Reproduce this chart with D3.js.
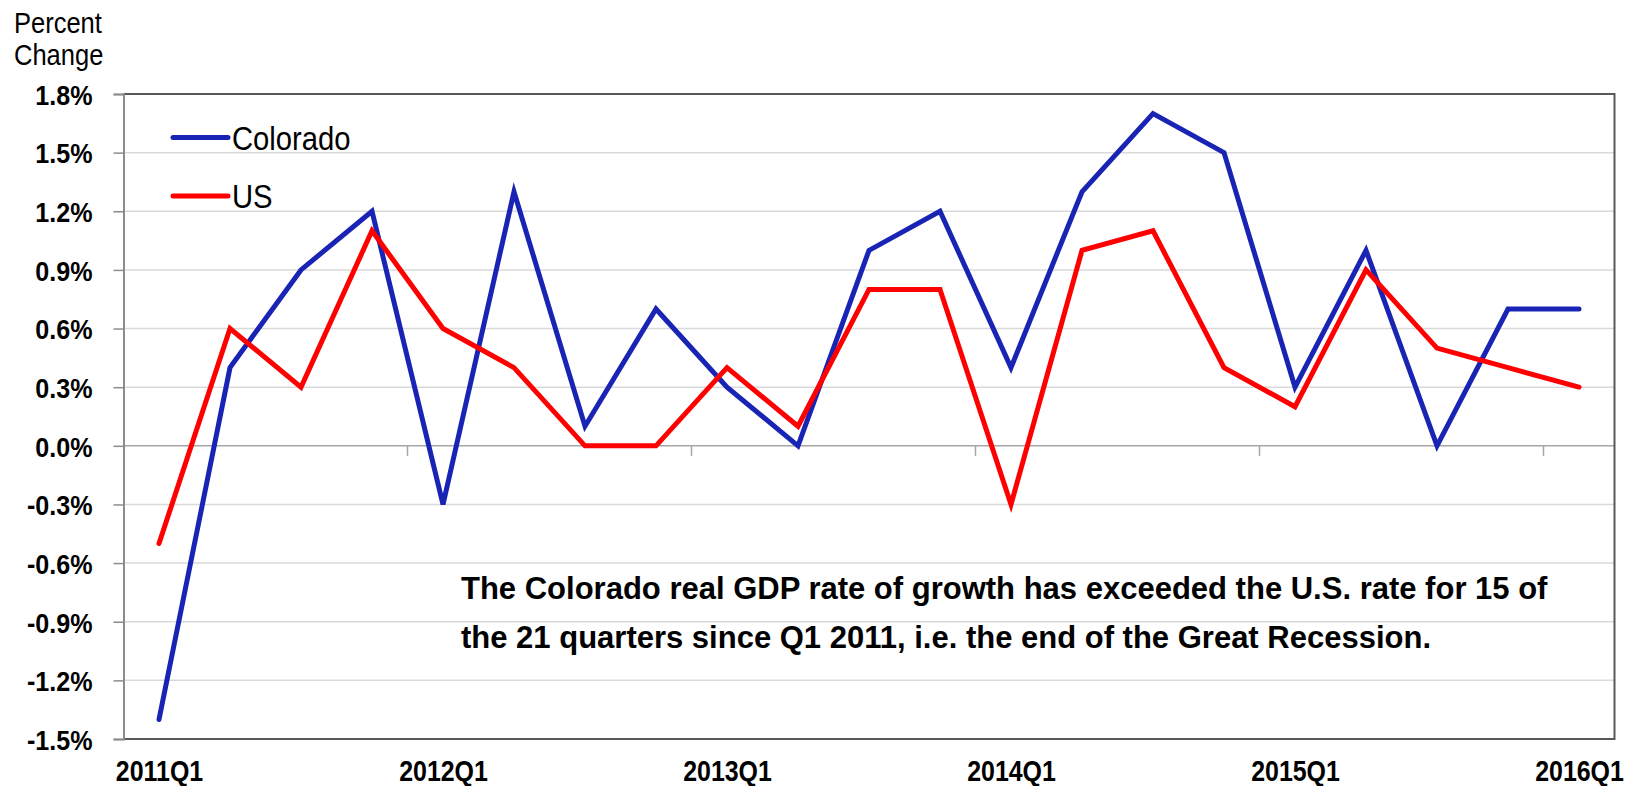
<!DOCTYPE html>
<html>
<head>
<meta charset="utf-8">
<script src="https://d3js.org/d3.v7.min.js"></script>
<style>
  body { margin: 0; background: #fff; }
  text { font-family: "Liberation Sans", Arial, sans-serif; fill: #000; }
</style>
</head>
<body>
<script>
// quarterly real GDP growth, percent change
var quarters = ["2011Q1", "2011Q2", "2011Q3", "2011Q4",
                "2012Q1", "2012Q2", "2012Q3", "2012Q4",
                "2013Q1", "2013Q2", "2013Q3", "2013Q4",
                "2014Q1", "2014Q2", "2014Q3", "2014Q4",
                "2015Q1", "2015Q2", "2015Q3", "2015Q4",
                "2016Q1"];
var colorado = [-1.4, 0.4, 0.9, 1.2, -0.3, 1.3, 0.1, 0.7, 0.3, 0.0, 1.0, 1.2,
                0.4, 1.3, 1.7, 1.5, 0.3, 1.0, 0.0, 0.7, 0.7];
var us = [-0.5, 0.6, 0.3, 1.1, 0.6, 0.4, 0.0, 0.0, 0.4, 0.1, 0.8, 0.8,
          -0.3, 1.0, 1.1, 0.4, 0.2, 0.9, 0.5, 0.4, 0.3];
var yTicks = [-1.5, -1.2, -0.9, -0.6, -0.3, 0.0, 0.3, 0.6, 0.9, 1.2, 1.5, 1.8];
var xLabels = ["2011Q1", "2012Q1", "2013Q1", "2014Q1", "2015Q1", "2016Q1"];
var seriesNames = ["Colorado", "US"];
var seriesColors = ["#1a24b4", "#ff0000"];
var yTitle = ["Percent", "Change"];
var note = ["The Colorado real GDP rate of growth has exceeded the U.S. rate for 15 of",
            "the 21 quarters since Q1 2011, i.e. the end of the Great Recession."];

const width = 1635, height = 786;
const plot = { left: 123.5, right: 1614.5, top: 94, bottom: 739 };

const svg = d3.select("body").append("svg")
  .attr("width", width).attr("height", height);

const x = d3.scalePoint().domain(quarters).range([plot.left, plot.right]).padding(0.5);
const step = x.step();
const y = d3.scaleLinear().domain([-1.5, 1.8]).range([plot.bottom, plot.top]);

// gridlines
svg.append("g").selectAll("line")
  .data(yTicks.filter(d => d !== 0 && d !== 1.8))
  .join("line")
  .attr("x1", plot.left).attr("x2", plot.right)
  .attr("y1", d => y(d)).attr("y2", d => y(d))
  .attr("stroke", "#d9d9d9").attr("stroke-width", 1.5);

// category axis sits on the zero line, ticks between categories every 4 quarters
svg.append("line")
  .attr("x1", plot.left).attr("x2", plot.right)
  .attr("y1", y(0)).attr("y2", y(0))
  .attr("stroke", "#a6a6a6").attr("stroke-width", 1.5);
svg.append("g").selectAll("line")
  .data(xLabels.slice(1))
  .join("line")
  .attr("x1", d => x(d) - step / 2).attr("x2", d => x(d) - step / 2)
  .attr("y1", y(0)).attr("y2", y(0) + 10)
  .attr("stroke", "#a6a6a6").attr("stroke-width", 1.5);

// plot frame
svg.append("path")
  .attr("d", `M${plot.left},${plot.top}H${plot.right}V${plot.bottom}H${plot.left}`)
  .attr("fill", "none").attr("stroke", "#595959").attr("stroke-width", 2);

// value axis
const yAxis = svg.append("g")
  .attr("transform", `translate(${plot.left},0)`)
  .call(d3.axisLeft(y).tickValues(yTicks).tickSize(10).tickFormat(d => d.toFixed(1) + "%"));
yAxis.select(".domain").attr("stroke", "#8c8c8c").attr("stroke-width", 2);
yAxis.selectAll(".tick line").attr("stroke", "#8c8c8c").attr("stroke-width", 1.5);
yAxis.selectAll(".tick text")
  .attr("x", null).attr("dy", null)
  .attr("dominant-baseline", "central")
  .attr("text-anchor", "end")
  .attr("transform", "translate(-31,1) scale(0.93,1)")
  .style("font-size", "27px").style("font-weight", "bold");

// category labels along the bottom
const xAxis = svg.append("g")
  .attr("transform", `translate(0,${plot.bottom})`)
  .call(d3.axisBottom(x).tickValues(xLabels).tickSize(0));
xAxis.select(".domain").remove();
xAxis.selectAll(".tick text")
  .attr("y", null).attr("dy", null)
  .attr("transform", "translate(0,42) scale(0.86,1)")
  .style("font-size", "29px").style("font-weight", "bold");

// series lines
const line = d3.line().x((d, i) => x(quarters[i])).y(d => y(d));
svg.append("g").selectAll("path")
  .data([colorado, us])
  .join("path")
  .attr("d", line)
  .attr("fill", "none")
  .attr("stroke", (d, i) => seriesColors[i])
  .attr("stroke-width", 5)
  .attr("stroke-linecap", "round")
  .attr("stroke-linejoin", "miter");

// legend
const legend = svg.append("g").selectAll("g")
  .data(seriesNames)
  .join("g")
  .attr("transform", (d, i) => `translate(173,${137.5 + i * 58.5})`);
legend.append("line")
  .attr("x1", 0).attr("x2", 55)
  .attr("stroke", (d, i) => seriesColors[i])
  .attr("stroke-width", 5).attr("stroke-linecap", "round");
legend.append("text")
  .attr("transform", "translate(59,12) scale(0.86,1)")
  .style("font-size", "34px")
  .text(d => d);

// y title
svg.append("g").selectAll("text")
  .data(yTitle)
  .join("text")
  .attr("transform", (d, i) => `translate(14,${33 + i * 32}) scale(0.88,1)`)
  .style("font-size", "29px")
  .text(d => d);

// note
svg.append("g").selectAll("text")
  .data(note)
  .join("text")
  .attr("x", 461).attr("y", (d, i) => 599 + i * 49)
  .style("font-size", "31px").style("font-weight", "bold")
  .text(d => d);
</script>
</body>
</html>
